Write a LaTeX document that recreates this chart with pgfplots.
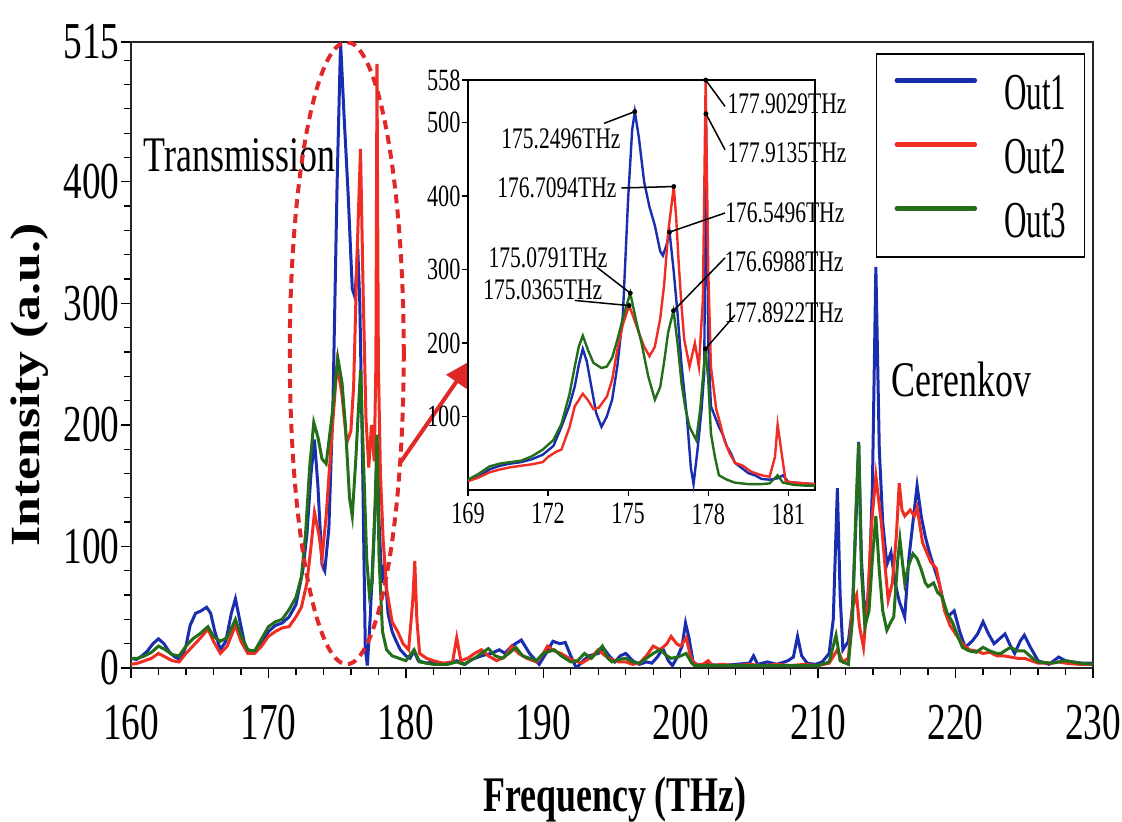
\documentclass[border=0pt]{standalone}
\usepackage{fontspec}
\setmainfont[FakeStretch=0.72]{Liberation Serif}
\newfontfamily\plainserif{Liberation Serif}
\newfontfamily\legfont[FakeStretch=0.6]{Liberation Serif}
\usepackage{graphicx}
\usepackage{pgfplots}
\pgfplotsset{compat=1.18}
\usetikzlibrary{arrows.meta}
\definecolor{cblue}{RGB}{25,45,175}
\definecolor{cred}{RGB}{240,45,35}
\definecolor{cgreen}{RGB}{35,110,25}
\definecolor{ered}{RGB}{225,40,40}
\begin{document}
\begin{tikzpicture}
\path[use as bounding box] (0,0) rectangle (1122bp,822bp);
\begin{axis}[
  at={(131bp,154bp)}, anchor=south west,
  scale only axis, width=962bp, height=626bp,
  xmin=160, xmax=230, ymin=0, ymax=515,
  xtick={160,170,...,230}, ytick={0,100,200,300,400,515},
  minor xtick={162,164,...,228}, minor ytick={20,40,...,500},
  tick pos=left, tick align=outside,
  major tick length=10bp, minor tick length=7bp,
  every tick/.style={black, line width=1.3bp},
  axis line style={line width=2bp, black!85},
  /pgf/number format/assume math mode=true,
  /pgf/number format/1000 sep={},
  ticklabel style={font=\fontsize{52}{56}\selectfont},
  xticklabel style={yshift=-24bp},
  yticklabel style={xshift=2bp},
  xlabel={\bfseries\fontsize{50}{54}\selectfont Frequency (THz)},
  xlabel style={at={(axis description cs:0.503,-0.211)}, anchor=center},
  ylabel={\scalebox{1}[0.8]{\plainserif\bfseries\fontsize{52}{56}\selectfont Intensity (a.u.)}},
  ylabel style={at={(axis description cs:-0.105,0.452)}, anchor=center},
  legend style={at={(rel axis cs:0.9917,0.982)}, anchor=north east, draw=black, line width=1.5bp, fill=white,
    font=\legfont\fontsize{52}{56}\selectfont, inner xsep=18bp, inner ysep=20bp, row sep=29bp,
    nodes={inner sep=0bp, text height=35bp, text depth=0bp},
    /tikz/every odd column/.append style={column sep=27bp}},
  legend cell align=left,
  legend image code/.code={\draw[#1, line width=4.5bp, line cap=round] (9bp,11bp) -- (87bp,11bp);},
]
\addplot[cblue, line width=3bp] coordinates {
(160,8)(160.4,7)(160.8,10)(161.2,14)(161.6,20)(162,24)(162.4,20)(162.8,13)(163.2,9)(163.6,7)(164,18)(164.3,35)(164.7,45)(165.1,47)(165.5,50)(165.8,45)(166.1,30)(166.5,15)(166.9,22)(167.3,45)(167.6,57)(167.9,40)(168.3,18)(168.7,12)(169,13)(169.5,20)(170,30)(170.5,35)(171,37)(171.5,42)(172,52)(172.5,80)(172.8,110)(173.1,160)(173.35,188)(173.6,150)(173.9,85)(174.1,80)(174.4,115)(174.7,220)(175.0,400)(175.25,515)(175.5,455)(175.8,390)(176.1,312)(176.3,305)(176.5,345)(176.65,300)(176.85,170)(177.05,15)(177.2,2)(177.4,40)(177.6,90)(177.8,140)(177.92,185)(178.05,120)(178.25,70)(178.45,85)(178.7,45)(179,30)(179.3,22)(179.6,15)(180,10)(180.3,8)(180.6,14)(180.9,6)(181.5,4)(182,5)(183,3)(183.7,6)(184.3,3)(184.8,7)(185.5,10)(186.2,12)(186.8,15)(187.2,12)(187.7,18)(188.4,23)(189,12)(189.7,3)(190.2,12)(190.7,22)(191.2,20)(191.6,21)(192,10)(192.4,0)(192.9,6)(193.3,10)(194,12)(194.4,16)(194.8,10)(195.2,5)(195.6,10)(196,12)(196.5,6)(197,3)(197.5,5)(197.9,4)(198.3,9)(198.7,16)(199.1,6)(199.4,2)(199.8,10)(200.1,18)(200.35,37)(200.6,25)(200.9,5)(201.3,2)(202,3)(203,2)(204,3)(205,4)(205.3,10)(205.6,3)(206.3,5)(207,3)(207.8,6)(208.2,9)(208.5,26)(208.8,10)(209.2,4)(209.8,3)(210.3,5)(210.8,12)(211.1,40)(211.4,148)(211.6,60)(211.8,15)(212.2,22)(212.5,50)(212.75,120)(212.95,186)(213.15,90)(213.4,40)(213.7,65)(213.95,150)(214.2,330)(214.45,180)(214.7,120)(215,85)(215.3,95)(215.6,70)(215.9,55)(216.3,42)(216.6,90)(216.9,120)(217.2,150)(217.5,125)(217.8,108)(218.1,95)(218.4,84)(218.8,70)(219.1,55)(219.4,42)(219.9,47)(220.3,30)(220.7,17)(221.2,22)(221.6,28)(222,38)(222.4,28)(222.8,20)(223.2,24)(223.6,28)(224,18)(224.3,12)(224.7,22)(225,27)(225.4,18)(226,6)(226.8,3)(227.5,9)(228,6)(228.5,5)(229.2,4)(230,4)
};
\addlegendentry{Out1}
\addplot[cred, line width=3bp] coordinates {
(160,3)(160.5,4)(161,6)(161.5,8)(162,12)(162.5,9)(163,6)(163.5,5)(164,12)(164.5,18)(165,24)(165.6,32)(166,22)(166.5,12)(167,18)(167.6,35)(168,22)(168.5,12)(169,12)(169.5,18)(170,26)(170.5,30)(171,33)(171.5,34)(172,42)(172.4,50)(172.8,70)(173.1,100)(173.35,128)(173.7,108)(173.9,90)(174.2,125)(174.6,190)(175.0,250)(175.35,225)(175.7,185)(176.0,195)(176.2,232)(176.45,340)(176.7,427)(176.9,305)(177.1,205)(177.3,165)(177.5,200)(177.7,170)(177.82,250)(177.9,497)(178.0,250)(178.15,160)(178.35,105)(178.6,65)(179,38)(179.4,30)(179.8,20)(180.2,15)(180.5,55)(180.65,88)(180.8,40)(181,12)(181.5,8)(182,6)(182.7,4)(183.4,5)(183.7,25)(184,6)(184.5,8)(185,12)(185.5,15)(186,10)(186.6,6)(187.2,9)(187.7,18)(188.2,12)(188.8,8)(189.5,5)(190,12)(190.3,18)(190.8,14)(191.3,12)(192,7)(192.8,4)(193.5,9)(194,15)(194.5,10)(195,7)(195.5,5)(196,5)(196.5,3)(197,4)(197.5,10)(198,18)(198.5,15)(199,20)(199.3,26)(199.7,20)(200,18)(200.4,25)(200.7,10)(201,3)(201.6,3)(202,6)(202.3,2)(203,3)(204,2)(205,3)(206,2)(207,3)(208,2)(209,3)(210,2)(210.8,4)(211.4,15)(211.8,5)(212.2,8)(212.5,50)(212.8,60)(213.0,35)(213.3,17)(213.6,56)(213.9,120)(214.2,158)(214.6,119)(214.9,80)(215.1,56)(215.4,70)(215.7,110)(215.9,152)(216.1,130)(216.3,125)(216.7,130)(217.0,125)(217.2,132)(217.6,103)(217.9,95)(218.2,87)(218.6,82)(218.9,65)(219.2,47)(219.6,35)(220,28)(220.5,20)(221,15)(221.5,14)(222,12)(222.5,13)(223,10)(223.5,10)(224,9)(224.5,8)(225,8)(225.5,6)(226,4)(227,4)(227.5,5)(228,4)(229,3)(230,3)
};
\addlegendentry{Out2}
\addplot[cgreen, line width=3bp] coordinates {
(160,8)(160.5,8)(161,10)(161.5,13)(162,18)(162.5,15)(163,11)(163.5,10)(164,18)(164.5,24)(165,28)(165.6,34)(166,26)(166.5,22)(167,25)(167.6,40)(168,27)(168.5,15)(169,14)(169.5,24)(170,34)(170.5,38)(171,40)(171.5,48)(172,58)(172.4,75)(172.7,110)(173.0,165)(173.3,202)(173.6,190)(173.9,172)(174.2,168)(174.6,205)(175.05,255)(175.35,235)(175.6,200)(175.9,140)(176.1,125)(176.35,170)(176.7,245)(176.95,160)(177.15,90)(177.35,60)(177.55,70)(177.75,130)(177.9,192)(178.05,90)(178.3,30)(178.6,15)(179,10)(179.5,8)(180,6)(180.6,15)(181,5)(181.5,4)(182,3)(183,3)(183.7,5)(184.2,3)(185,8)(185.5,12)(186,16)(186.5,10)(187,8)(187.5,12)(188,17)(188.5,10)(189,8)(189.5,6)(190,12)(190.8,15)(191.3,10)(192,5)(192.5,6)(193,12)(193.5,8)(194,14)(194.3,18)(194.7,8)(195,5)(195.5,7)(196,8)(196.5,5)(197,4)(197.5,8)(198,12)(198.5,15)(199,10)(199.3,8)(199.8,9)(200.4,12)(200.8,4)(201,2)(202,2)(203,2)(204,2)(205,2)(206,2)(207,2)(208,2)(209,2)(210,2)(210.8,5)(211.3,27)(211.6,6)(212.2,3)(212.5,40)(212.75,130)(212.95,185)(213.15,80)(213.4,34)(213.7,47)(213.95,90)(214.2,125)(214.45,80)(214.7,47)(215.0,31)(215.3,38)(215.5,42)(215.8,90)(215.95,106)(216.3,70)(216.6,85)(216.9,94)(217.2,90)(217.5,81)(217.8,70)(218,67)(218.4,70)(218.7,62)(219,59)(219.4,45)(219.8,37)(220.2,25)(220.5,17)(221,14)(221.5,13)(222,17)(222.5,14)(223,12)(223.3,12)(223.7,15)(224,17)(224.5,14)(225,14)(225.5,9)(226,5)(227,4)(228,6)(229,4)(230,3)
};
\addlegendentry{Out3}
\node[anchor=west, font=\fontsize{50}{54}\selectfont] at (axis cs:160.66,422) {Transmission};
\node[anchor=west, font=\fontsize{50}{54}\selectfont] at (axis cs:215.1,237) {Cerenkov};
\draw[ered, line width=4bp, dash pattern=on 9bp off 6bp] (axis cs:175.7,259) ellipse [x radius=57bp, y radius=311bp];
\draw[ered, line width=4bp, -{Triangle[length=26bp,width=24bp]}] (axis cs:179.6,169) -- (axis cs:184.75,253);
\end{axis}
\begin{axis}[
  at={(468bp,332bp)}, anchor=south west,
  scale only axis, width=347bp, height=410bp,
  xmin=169, xmax=182, ymin=0, ymax=558,
  xtick={169,172,175,178,181}, ytick={100,200,300,400,500,558},
  tick pos=left, tick align=outside,
  major tick length=6bp,
  every tick/.style={black, line width=1.2bp},
  axis line style={line width=1.8bp, black},
  axis background/.style={fill=white},
  clip=false,
  /pgf/number format/assume math mode=true,
  /pgf/number format/1000 sep={},
  ticklabel style={font=\fontsize{31}{33}\selectfont},
  xticklabel style={yshift=-4bp},
  yticklabel style={xshift=2bp},
]
\addplot[cblue, line width=2.4bp] coordinates {
(169,14)(169.4,18)(169.8,28)(170.2,33)(170.6,36)(171,38)(171.4,42)(171.8,48)(172.2,60)(172.5,86)(172.8,115)(173.0,141)(173.15,170)(173.3,192)(173.45,175)(173.6,145)(173.8,105)(174.0,86)(174.2,100)(174.4,123)(174.6,170)(174.8,237)(175.0,397)(175.15,490)(175.25,515)(175.4,480)(175.6,419)(175.8,385)(176.0,360)(176.2,325)(176.3,319)(176.45,335)(176.55,351)(176.7,300)(176.85,240)(177.0,170)(177.2,100)(177.35,30)(177.45,8)(177.6,55)(177.75,110)(177.85,160)(177.9135,512)(178.0,200)(178.1,114)(178.25,100)(178.4,86)(178.55,75)(178.7,59)(178.85,50)(179.0,37)(179.25,30)(179.5,23)(179.75,20)(180,15)(180.3,14)(180.6,16)(180.8,20)(181,11)(181.3,10)(181.6,9)(182,8)
};
\addplot[cred, line width=2.4bp] coordinates {
(169,12)(169.4,17)(169.8,24)(170.2,28)(170.6,31)(171,33)(171.4,35)(171.8,38)(172.0,45)(172.3,52)(172.5,55)(172.8,85)(173.0,114)(173.3,131)(173.5,122)(173.7,110)(173.9,112)(174.2,127)(174.4,150)(174.6,192)(174.8,225)(175.0365,251)(175.2,235)(175.4,214)(175.6,195)(175.8,182)(176.0,195)(176.2,233)(176.35,280)(176.5,351)(176.7094,413)(176.8,370)(176.9,305)(177.0,250)(177.1,205)(177.3,168)(177.5,200)(177.65,168)(177.8,260)(177.9029,558)(178.0,300)(178.1,168)(178.3,110)(178.45,90)(178.6,68)(178.8,50)(179,37)(179.3,33)(179.6,25)(180,20)(180.3,18)(180.5,45)(180.6,89)(180.75,50)(180.9,12)(181.2,10)(181.6,9)(182,8)
};
\addplot[cgreen, line width=2.4bp] coordinates {
(169,14)(169.4,22)(169.8,32)(170.2,36)(170.6,38)(171,40)(171.4,46)(171.8,55)(172.2,68)(172.5,90)(172.8,130)(173.0,168)(173.15,195)(173.3,210)(173.5,190)(173.7,173)(174.0,166)(174.2,168)(174.4,180)(174.6,205)(174.85,240)(175.0791,268)(175.3,230)(175.5,200)(175.75,155)(176.0,123)(176.2,140)(176.35,175)(176.5,215)(176.6988,244)(176.85,200)(177.0,145)(177.15,110)(177.3,86)(177.45,75)(177.55,68)(177.7,110)(177.8922,192)(178.0,150)(178.1,77)(178.25,45)(178.4,20)(178.7,14)(179,10)(179.5,8)(180,8)(180.3,9)(180.6,20)(180.8,10)(181.2,7)(181.6,6)(182,6)
};
\addplot[only marks, mark=*, mark size=2.2bp, black] coordinates {
(175.2496,515)(176.7094,413)(177.9029,558)(177.9135,512)(176.5496,351)(176.6988,244)(177.8922,192)(175.0791,268)(175.0365,251)
};
\begin{scope}[black, line width=1.5bp]
\draw (axis cs:174.1,499) -- (axis cs:175.2496,515);
\draw (axis cs:174.75,411) -- (axis cs:176.7094,413);
\draw (axis cs:177.9029,558) -- (axis cs:178.63,522);
\draw (axis cs:177.9135,512) -- (axis cs:178.63,463);
\draw (axis cs:176.5496,351) -- (axis cs:178.63,377);
\draw (axis cs:176.6988,244) -- (axis cs:178.63,316);
\draw (axis cs:177.8922,192) -- (axis cs:179.0,238);
\draw (axis cs:173.83,303) -- (axis cs:175.0791,268);
\draw (axis cs:173.0,258) -- (axis cs:175.0365,251);
\end{scope}
\begin{scope}[font=\fontsize{30}{32}\selectfont, inner sep=0pt]
\node at (axis cs:172.48,478) {175.2496THz};
\node at (axis cs:172.33,411) {176.7094THz};
\node at (axis cs:180.95,525) {177.9029THz};
\node at (axis cs:180.95,459) {177.9135THz};
\node at (axis cs:180.87,377) {176.5496THz};
\node at (axis cs:180.84,310) {176.6988THz};
\node at (axis cs:180.84,241) {177.8922THz};
\node at (axis cs:172.0,316) {175.0791THz};
\node at (axis cs:171.8,272) {175.0365THz};
\end{scope}
\end{axis}
\end{tikzpicture}
\end{document}
